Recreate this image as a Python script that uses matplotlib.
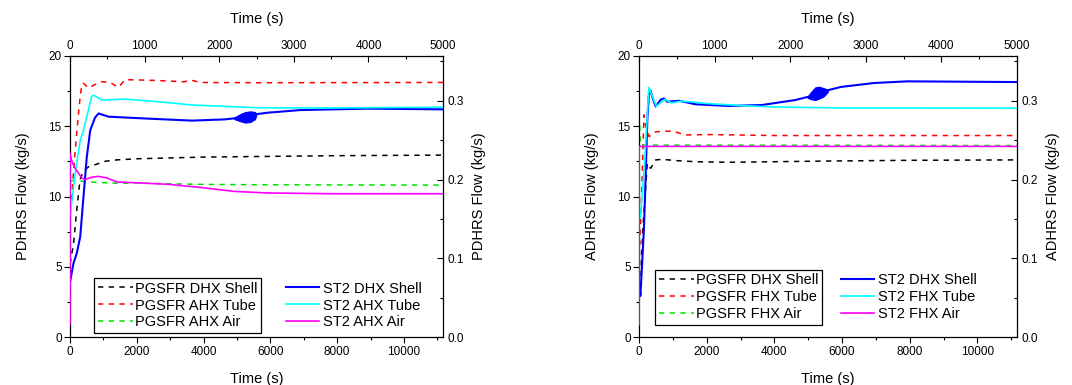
import matplotlib
matplotlib.use("Agg")
import matplotlib.pyplot as plt
from matplotlib.ticker import MultipleLocator, FormatStrFormatter

plt.rcParams['font.family'] = ['Liberation Sans', 'DejaVu Sans']

# ---------------- Left panel (PDHRS) ----------------
# PGSFR series: bottom time axis (s), left flow axis (kg/s)
pd_dhx_t = [0, 50, 100, 200, 300, 400, 550, 800, 1050, 1400, 2000, 4000, 6000, 8000, 11170]
pd_dhx_y = [5.2, 5.9, 6.5, 9.0, 11.2, 11.8, 12.1, 12.3, 12.5, 12.6, 12.68, 12.8, 12.85, 12.9, 12.94]
pd_ahxt_t = [0, 40, 100, 200, 300, 350, 400, 550, 700, 950, 1200, 1450, 1650, 2500, 3400, 3650, 3900, 5600, 11170]
pd_ahxt_y = [9.0, 9.5, 11.6, 14.5, 17.0, 17.9, 18.05, 17.7, 17.9, 18.15, 18.1, 17.75, 18.3, 18.25, 18.15, 18.25, 18.1, 18.08, 18.1]
pd_ahxa_t = [0, 200, 450, 1400, 2000, 4000, 6000, 11170]
pd_ahxa_y = [11.1, 11.17, 11.05, 10.94, 10.95, 10.86, 10.83, 10.81]

# ST2 series: top time axis (s), right flow axis (kg/s)
sd_dhx_t = [0, 24, 47, 91, 137, 181, 225, 271, 335, 383, 517, 964, 1635, 2082, 2200, 2500, 2643, 3088, 3980, 5000]
sd_dhx_y = [0.0705, 0.0821, 0.0939, 0.1066, 0.1276, 0.1785, 0.2285, 0.2624, 0.2785, 0.2838, 0.2797,
            0.2776, 0.2747, 0.2763, 0.2776, 0.2829, 0.2847, 0.2881, 0.2899, 0.2890]
sd_osc_t = [2200, 2280, 2350, 2420, 2480, 2500]
sd_osc_hi = [0.2785, 0.2829, 0.2856, 0.2865, 0.2856, 0.2833]
sd_osc_lo = [0.2767, 0.2740, 0.2722, 0.2731, 0.2767, 0.2826]
sd_ahxt_t = [0, 3, 70, 137, 181, 290, 315, 427, 741, 1188, 1635, 2530, 3540, 5000]
sd_ahxt_y = [0.1535, 0.1553, 0.2080, 0.2499, 0.2624, 0.3052, 0.3070, 0.3008, 0.3020, 0.2986, 0.2945, 0.2910, 0.2908, 0.2917]
sd_ahxa_t = [0, 1, 24, 70, 114, 158, 203, 293, 383, 494, 628, 860, 1306, 1750, 2196, 2642, 3533, 5000]
sd_ahxa_y = [0.017, 0.233, 0.223, 0.214, 0.208, 0.202, 0.200, 0.203, 0.204, 0.202, 0.197, 0.196,
             0.194, 0.190, 0.185, 0.183, 0.182, 0.182]

# ---------------- Right panel (ADHRS) ----------------
ad_dhx_t = [0, 49, 71, 118, 190, 245, 345, 493, 687, 1100, 1672, 2655, 5605, 8000, 11170]
ad_dhx_y = [2.9, 2.95, 5.5, 7.86, 10.5, 12.36, 12.0, 12.6, 12.64, 12.55, 12.47, 12.43, 12.52, 12.57, 12.6]
ad_fhxt_t = [0, 30, 60, 100, 147, 200, 295, 493, 982, 1378, 2035, 4000, 11170]
ad_fhxt_y = [5.0, 7.4, 8.8, 12.0, 15.8, 15.0, 14.25, 14.6, 14.65, 14.37, 14.4, 14.33, 14.33]
ad_fhxa_t = [0, 20, 40, 11170]
ad_fhxa_y = [15.8, 15.0, 13.65, 13.62]

sa_dhx_t = [0, 18, 44, 66, 88, 110, 130, 150, 175, 220, 286, 330, 374, 528, 748, 1187, 1627, 2067,
            2250, 2500, 2670, 3110, 3550, 5000]
sa_dhx_y = [0.0518, 0.0527, 0.0980, 0.1403, 0.2035, 0.2767, 0.3070, 0.3133, 0.3051, 0.2926, 0.3011,
            0.3029, 0.2986, 0.2999, 0.2954, 0.2933, 0.2945, 0.3008, 0.3052, 0.3133, 0.3174, 0.3224,
            0.3245, 0.3236]
sa_osc_t = [2230, 2280, 2330, 2380, 2440, 2494, 2500]
sa_osc_hi = [0.3052, 0.3115, 0.3168, 0.3177, 0.3160, 0.3142, 0.3133]
sa_osc_lo = [0.3035, 0.3017, 0.3008, 0.3026, 0.3052, 0.3106, 0.3133]
sa_fhxt_t = [0, 20, 75, 130, 185, 229, 339, 427, 558, 690, 910, 1350, 1790, 2670, 5000]
sa_fhxt_y = [0.1482, 0.1535, 0.2231, 0.3168, 0.3035, 0.2927, 0.3017, 0.2972, 0.2993, 0.2985,
             0.2963, 0.2938, 0.2920, 0.2908, 0.2904]
sa_fhxa_t = [0, 1, 5000]
sa_fhxa_y = [0.016, 0.242, 0.242]

XMAX_BOTTOM = 11170
XMAX_TOP = 5000
YMAX_LEFT = 20
YMAX_RIGHT = 0.357

fig = plt.figure(figsize=(10.72, 3.85), dpi=100)

dash = (0, (3.5, 3.5))
TICK_FS = 8.5
LABEL_FS = 10.5
LEG_FS = 10.5


def make_panel(pos, ylab, pg, st, osc, pg_labels, st_labels, leg1_anchor, leg2_anchor):
    ax = fig.add_axes(pos)
    axt = fig.add_axes(pos, frameon=False)
    axt.patch.set_visible(False)
    axt.xaxis.tick_top()
    axt.xaxis.set_label_position('top')
    axt.yaxis.tick_right()
    axt.yaxis.set_label_position('right')

    colors_pg = ['black', 'red', '#00e000']
    colors_st = ['#0000ff', '#00ffff', '#ff00ff']
    lw_st = [1.5, 1.2, 1.2]
    h1 = []
    for (t, y), c, lab in zip(pg, colors_pg, pg_labels):
        l, = ax.plot(t, y, color=c, lw=1.1, linestyle=dash, label=lab)
        h1.append(l)
    h2 = []
    for (t, y), c, lab, lw in zip(st, colors_st, st_labels, lw_st):
        l, = axt.plot(t, y, color=c, lw=lw, label=lab)
        h2.append(l)
    ot, ohi, olo = osc
    axt.fill_between(ot, olo, ohi, color='#0000ff', lw=0.8, edgecolor='#0000ff')

    ax.set_xlim(0, XMAX_BOTTOM)
    ax.set_ylim(0, YMAX_LEFT)
    axt.set_xlim(0, XMAX_TOP)
    axt.set_ylim(0, YMAX_RIGHT)

    ax.xaxis.set_major_locator(MultipleLocator(2000))
    ax.xaxis.set_minor_locator(MultipleLocator(1000))
    ax.yaxis.set_major_locator(MultipleLocator(5))
    ax.yaxis.set_minor_locator(MultipleLocator(2.5))
    axt.xaxis.set_major_locator(MultipleLocator(1000))
    axt.xaxis.set_minor_locator(MultipleLocator(500))
    axt.yaxis.set_major_locator(MultipleLocator(0.1))
    axt.yaxis.set_minor_locator(MultipleLocator(0.05))
    axt.yaxis.set_major_formatter(FormatStrFormatter('%.1f'))

    ax.tick_params(which='major', direction='out', length=4, width=0.8, labelsize=TICK_FS, pad=2)
    ax.tick_params(which='minor', direction='out', length=2.5, width=0.8)
    axt.tick_params(which='major', direction='in', length=4, width=0.8, labelsize=TICK_FS, pad=3)
    axt.tick_params(which='minor', direction='in', length=2.5, width=0.8)
    for s in ax.spines.values():
        s.set_linewidth(0.9)

    ax.set_xlabel('Time (s)', fontsize=LABEL_FS, labelpad=10)
    axt.set_xlabel('Time (s)', fontsize=LABEL_FS, labelpad=12)
    ax.set_ylabel(ylab, fontsize=LABEL_FS, labelpad=13)
    axt.set_ylabel(ylab, fontsize=LABEL_FS, labelpad=6)

    leg1 = ax.legend(handles=h1, loc='lower left', bbox_to_anchor=leg1_anchor, fontsize=LEG_FS,
                     frameon=True, fancybox=False, edgecolor='black', framealpha=1,
                     handlelength=2.4, handletextpad=0.15, labelspacing=0.2,
                     borderpad=0.25, borderaxespad=0)
    leg1.get_frame().set_linewidth(0.9)
    axt.legend(handles=h2, loc='lower left', bbox_to_anchor=leg2_anchor, fontsize=LEG_FS,
               frameon=False, handlelength=2.25, handletextpad=0.3, labelspacing=0.2,
               borderpad=0.25, borderaxespad=0)
    return ax, axt


make_panel([0.0653, 0.1239, 0.348, 0.7314], 'PDHRS Flow (kg/s)',
           [(pd_dhx_t, pd_dhx_y), (pd_ahxt_t, pd_ahxt_y), (pd_ahxa_t, pd_ahxa_y)],
           [(sd_dhx_t, sd_dhx_y), (sd_ahxt_t, sd_ahxt_y), (sd_ahxa_t, sd_ahxa_y)],
           (sd_osc_t, sd_osc_hi, sd_osc_lo),
           ['PGSFR DHX Shell', 'PGSFR AHX Tube', 'PGSFR AHX Air'],
           ['ST2 DHX Shell', 'ST2 AHX Tube', 'ST2 AHX Air'],
           (0.065, 0.015), (0.57, 0.015))

make_panel([0.5961, 0.1239, 0.3526, 0.7314], 'ADHRS Flow (kg/s)',
           [(ad_dhx_t, ad_dhx_y), (ad_fhxt_t, ad_fhxt_y), (ad_fhxa_t, ad_fhxa_y)],
           [(sa_dhx_t, sa_dhx_y), (sa_fhxt_t, sa_fhxt_y), (sa_fhxa_t, sa_fhxa_y)],
           (sa_osc_t, sa_osc_hi, sa_osc_lo),
           ['PGSFR DHX Shell', 'PGSFR FHX Tube', 'PGSFR FHX Air'],
           ['ST2 DHX Shell', 'ST2 FHX Tube', 'ST2 FHX Air'],
           (0.043, 0.044), (0.525, 0.044))

fig.savefig('out.png', dpi=100)
